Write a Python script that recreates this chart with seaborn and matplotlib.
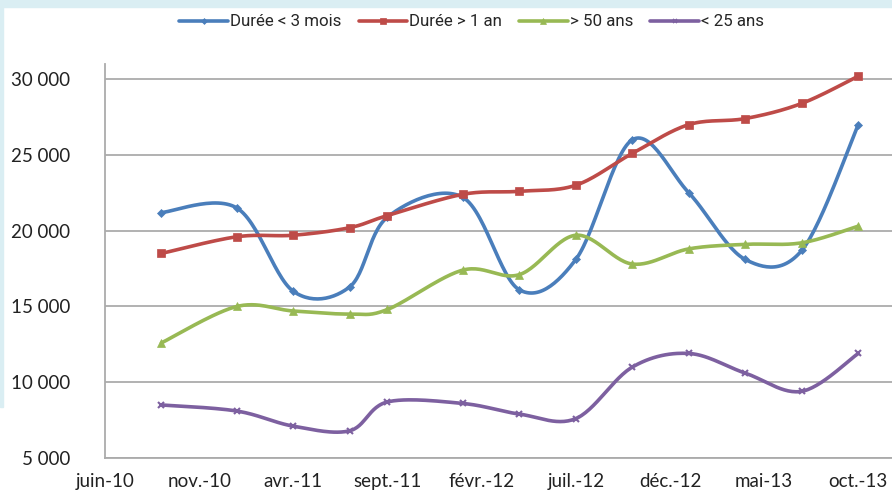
import numpy as np
import pandas as pd
import matplotlib
matplotlib.use("Agg")
import matplotlib.pyplot as plt
from matplotlib.lines import Line2D
from matplotlib.patches import Rectangle
from matplotlib import font_manager
import seaborn as sns

# data (quarterly points)
dates = ["2010-09", "2011-01", "2011-04", "2011-07", "2011-09", "2012-01", "2012-04",
         "2012-07", "2012-10", "2013-01", "2013-04", "2013-07", "2013-10"]
duree_3mois = [21200, 21500, 16000, 16300, 20900, 22200, 16100, 18100, 26000, 22500, 18100, 18700, 27000]
duree_1an = [18500, 19600, 19700, 20200, 21000, 22400, 22600, 23000, 25100, 27000, 27400, 28400, 30200]
plus_50 = [12600, 15000, 14700, 14500, 14800, 17400, 17100, 19700, 17800, 18800, 19100, 19200, 20300]
moins_25 = [8500, 8100, 7100, 6800, 8700, 8600, 7900, 7600, 11000, 11900, 10600, 9400, 11900]

tick_labels = ["juin-10", "nov.-10", "avr.-11", "sept.-11", "févr.-12",
               "juil.-12", "déc.-12", "mai-13", "oct.-13"]

series = [
    ("Durée < 3 mois", duree_3mois, "#4A7EBB", "D", 4.5),
    ("Durée > 1 an", duree_1an, "#BE4B48", "s", 5.5),
    ("> 50 ans", plus_50, "#98B954", "^", 5.5),
    ("< 25 ans", moins_25, "#7D60A0", "x", 5),
]

# month index relative to juin-10
start = pd.Period("2010-06", freq="M")
x = np.array([(pd.Period(d, freq="M") - start).n for d in dates], dtype=float)


def smooth(xs, ys, n=30):
    # Excel-like smoothed line (cubic Bezier, Catmull-Rom control points)
    pts = np.column_stack([xs, ys]).astype(float)
    ext = np.vstack([pts[0], pts, pts[-1]])
    out = []
    for i in range(len(pts) - 1):
        p0, p1, p2, p3 = ext[i], ext[i + 1], ext[i + 2], ext[i + 3]
        c1 = p1 + (p2 - p0) / 6
        c2 = p2 - (p3 - p1) / 6
        t = np.linspace(0, 1, n)[:, None]
        seg = (1 - t) ** 3 * p1 + 3 * (1 - t) ** 2 * t * c1 + 3 * (1 - t) * t ** 2 * c2 + t ** 3 * p2
        out.append(seg if i == 0 else seg[1:])
    s = np.vstack(out)
    return s[:, 0], s[:, 1]


def pick_font(names):
    for nm in names:
        try:
            font_manager.findfont(nm, fallback_to_default=False)
            return nm
        except Exception:
            pass
    return "DejaVu Sans"


sns.set_style("white")
tick_font = pick_font(["Lato", "Open Sans"])
leg_font = pick_font(["Liberation Sans Narrow", "Roboto", "Lato"])
plt.rcParams["font.family"] = [tick_font, "DejaVu Sans"]

fig = plt.figure(figsize=(8.92, 4.94), dpi=100)
fig.patch.set_facecolor("white")
# light cyan frame of the original slide
fig.patches.append(Rectangle((0, 1 - 7 / 494), 1, 7 / 494, transform=fig.transFigure,
                             color="#DAEEF3", zorder=0))
fig.patches.append(Rectangle((0, 1 - 407 / 494), 3 / 892, 400 / 494, transform=fig.transFigure,
                             color="#DAEEF3", zorder=0))

ax = fig.add_axes([105 / 892, 1 - 458 / 494, 1 - 105 / 892, (458 - 64) / 494])

for name, vals, col, mk, ms in series:
    sx, sy = smooth(x, vals)
    curve = pd.DataFrame({"x": sx, "y": sy})
    sns.lineplot(data=curve, x="x", y="y", sort=False, estimator=None, ax=ax,
                 color=col, linewidth=2.6, zorder=3)
    ax.plot(x, vals, linestyle="none", marker=mk, markersize=ms, color=col,
            markeredgewidth=1.5 if mk == "x" else 0.5, zorder=4)

ax.set_xlim(0.47, 41.79)
ax.set_ylim(5000, 31000)
ax.set_xticks(np.arange(0, 41, 5))
ax.set_xticklabels(tick_labels)
yt = np.arange(5000, 30001, 5000)
ax.set_yticks(yt)
ax.set_yticklabels([f"{v:,}".replace(",", " ") for v in yt])
ax.tick_params(axis="x", length=0, pad=11, labelsize=13.5, colors="#222222")
ax.tick_params(axis="y", length=0, pad=25, labelsize=13.5, colors="#222222")
ax.set_xlabel("")
ax.set_ylabel("")
ax.grid(axis="y", color="#ABABAB", linewidth=1.3)
ax.set_axisbelow(True)
for side in ["top", "right"]:
    ax.spines[side].set_visible(False)
for side in ["left", "bottom"]:
    ax.spines[side].set_color("#ABABAB")
    ax.spines[side].set_linewidth(1.3)

handles = [Line2D([0], [0], color=col, linewidth=2.6, marker=mk, markersize=ms - 1.5,
                  markeredgewidth=1.2 if mk == "x" else 0.5)
           for name, vals, col, mk, ms in series]
fig.legend(handles, [s[0] for s in series], loc="center", ncol=4,
           bbox_to_anchor=(0.529, 1 - 22 / 494), frameon=False, handlelength=2.85,
           handletextpad=0.15, columnspacing=1.0, prop={"family": leg_font, "size": 12.2})

fig.savefig("out.png", dpi=100, facecolor=fig.get_facecolor())
